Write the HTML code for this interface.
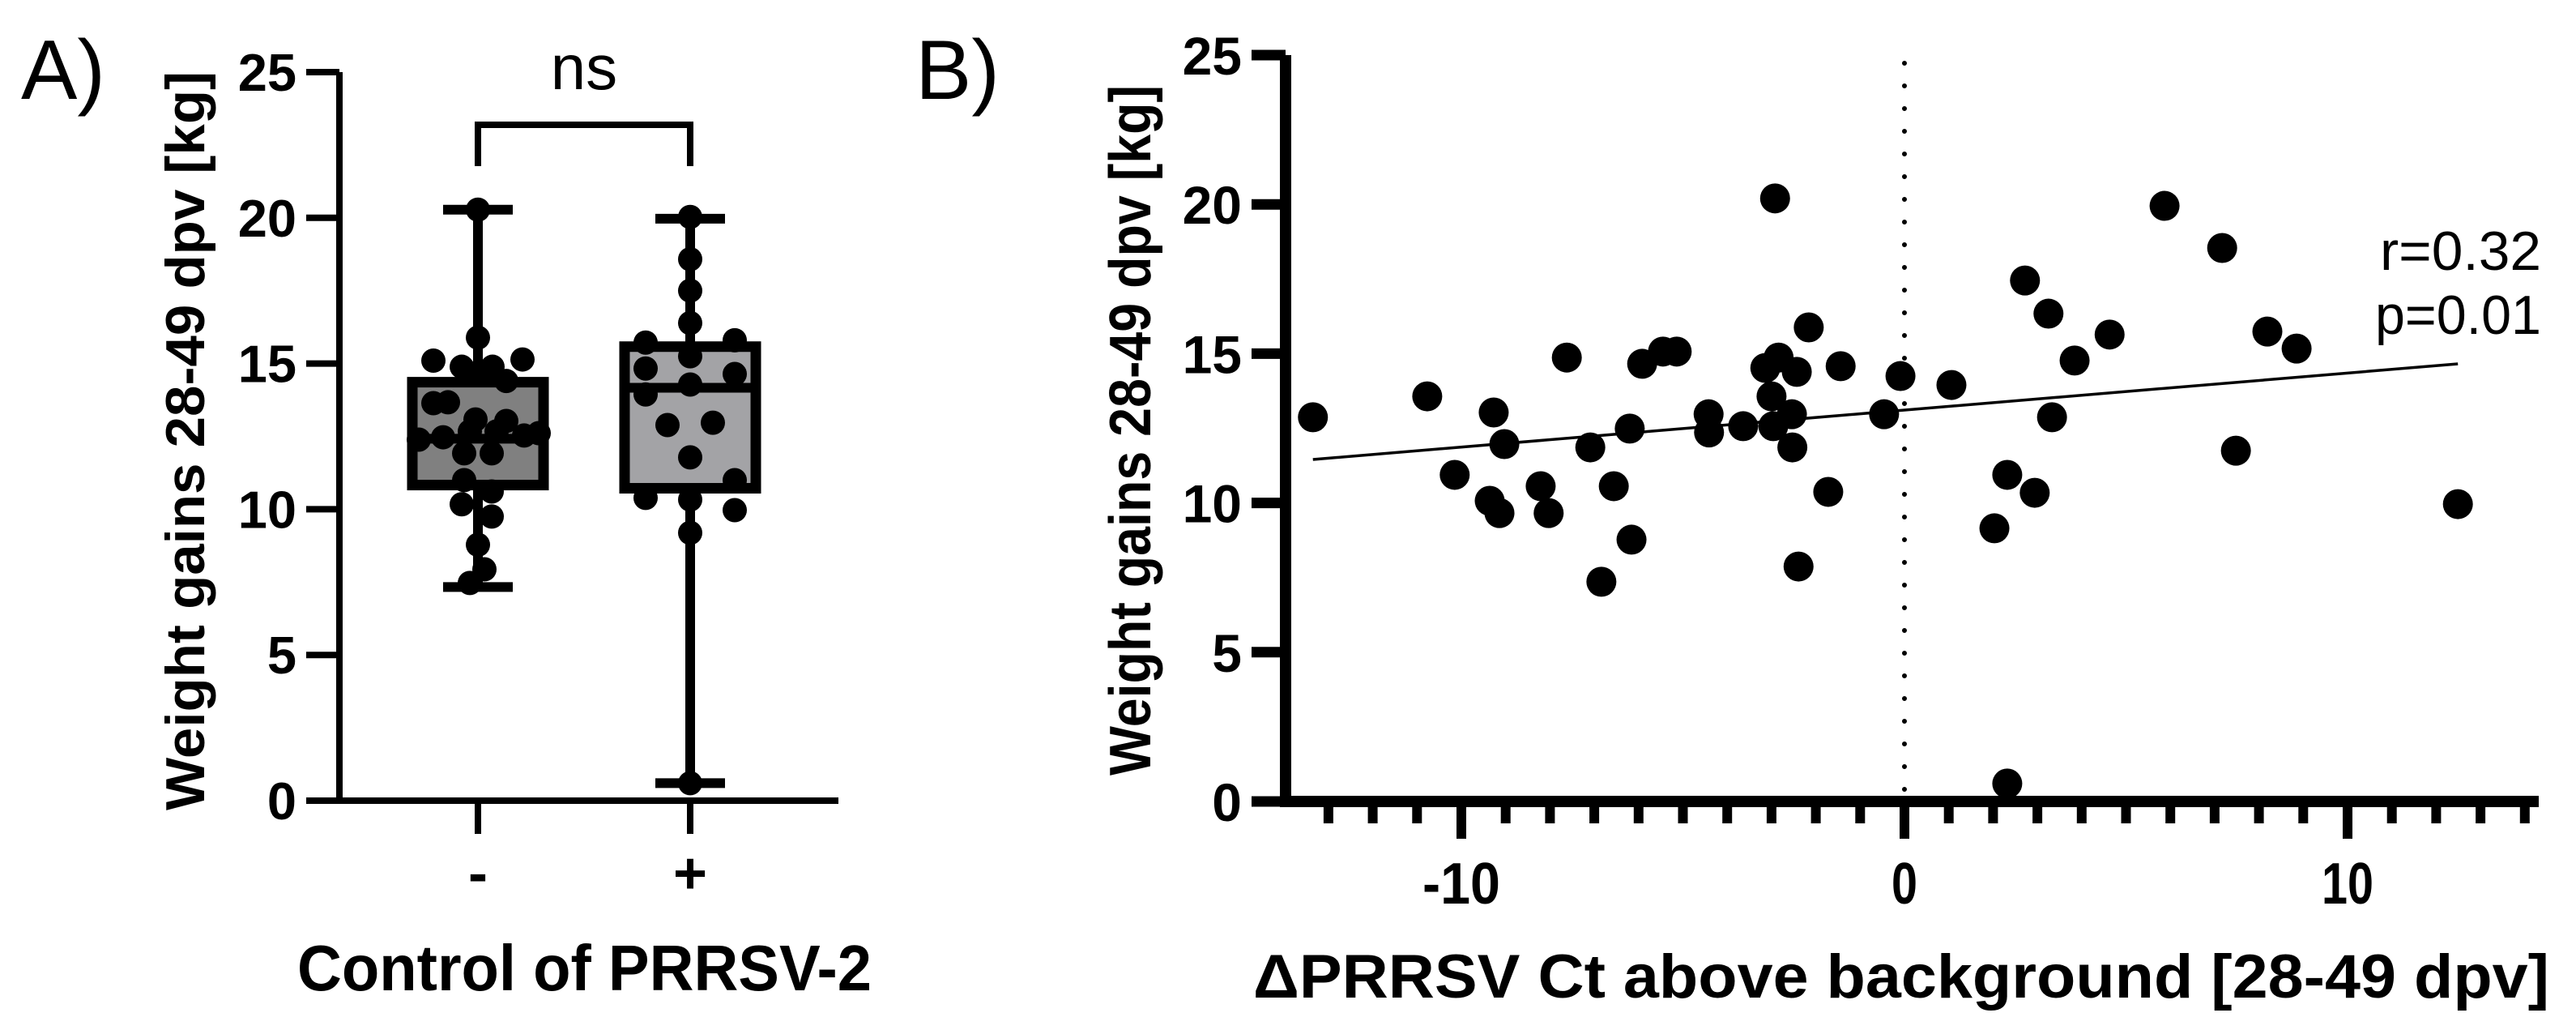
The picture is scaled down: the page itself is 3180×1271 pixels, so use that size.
<!DOCTYPE html>
<html><head><meta charset="utf-8"><style>
html,body{margin:0;padding:0;background:#fff;}
svg{display:block;font-family:"Liberation Sans",Arial,sans-serif;}
</style></head><body>
<svg id="fig" width="3180" height="1271" viewBox="0 0 3180 1271" xmlns="http://www.w3.org/2000/svg">
<rect width="3180" height="1271" fill="#fff"/>
<g id="pa"></g>
<g id="pb"></g>
</svg>
<script>
// ---------- Panel A data ----------
const catsA = ["-", "+"];
const ticksA = [0, 5, 10, 15, 20, 25];
const pointsNeg = [20.28,15.89,15.1,14.89,14.89,15.14,14.7,14.4,13.64,13.67,13.08,13.03,12.39,12.47,12.67,12.67,12.53,12.61,11.92,11.92,11.0,10.61,10.17,9.75,8.78,7.94,7.47];
const pointsPos = [20.03,18.58,17.5,16.39,15.72,15.8,15.25,14.83,14.64,14.28,13.94,12.89,12.97,11.78,11.0,10.39,10.33,9.97,9.19,0.6];
const boxQ1 = [10.83, 10.72];
const boxMedian = [12.42, 14.17];
const boxQ3 = [14.36, 15.58];
const boxMin = [7.33, 0.6];
const boxMax = [20.28, 19.97];
// jitter layout (horizontal spread, px) – not data
const jitterNeg = [0,0,-55,-20,18,55,0,35,-55,-37,-3,35,-73,-43,-10,23,57,75,-17,17,-17,17,-20,17,0,8,-10];
const jitterPos = [0,0,0,0,-55,55,0,-55,55,0,-55,-28,28,0,55,-55,0,55,0,0];

// ---------- Panel B data ----------
const ticksBy = [0, 5, 10, 15, 20, 25];
const ticksBx = [-10, 0, 10];
const scatterX = [-13.35,-10.77,-9.27,-9.03,-10.15,-9.36,-9.14,-8.21,-8.03,-7.62,-7.09,-6.56,-6.16,-6.84,-6.2,-5.92,-5.45,-5.14,-4.42,-4.41,-3.64,-2.92,-3.14,-2.84,-2.43,-3.0,-2.54,-2.96,-2.53,-2.16,-1.72,-2.39,-1.44,-0.46,-0.09,1.06,2.72,3.25,3.84,4.63,3.33,2.32,2.94,2.03,2.32,5.87,7.17,8.19,8.85,7.48,12.49];
const scatterY = [12.87,13.57,13.03,11.97,10.94,10.07,9.66,10.56,9.66,14.87,11.86,10.56,8.77,7.36,12.49,14.66,15.07,15.07,12.97,12.36,12.57,20.2,14.52,14.87,14.39,13.57,12.97,12.57,11.86,15.88,10.37,7.87,14.58,12.97,14.25,13.95,17.45,16.34,14.77,15.64,12.87,10.94,10.34,9.15,0.6,19.95,18.54,15.74,15.17,11.75,9.96];
const fitSlope = [0.124];
const fitIntercept = [13.11];
const statLabels = ["r=0.32", "p=0.01"];

const NS = "http://www.w3.org/2000/svg";
function mk(parent, tag, attrs, text) {
  const e = document.createElementNS(NS, tag);
  for (const k in attrs) e.setAttribute(k, attrs[k]);
  if (text !== undefined) e.textContent = text;
  parent.appendChild(e);
  return e;
}

// ===== Panel A =====
const pa = document.getElementById('pa');
const yA = v => 988 - v * 35.96;
const xA = i => [590, 852][i];
const A_AX = 419;

let t = mk(pa, 'text', {x: 26, y: 122, 'font-size': 104}, 'A)');



let yt = mk(pa, 'text', {x: 0, y: 0, 'font-size': 68, 'font-weight': 'bold', 'text-anchor': 'middle', transform: 'translate(252,544) rotate(-90)', textLength: 912, lengthAdjust: 'spacingAndGlyphs'}, 'Weight gains 28-49 dpv [kg]');



let axA = mk(pa, 'path', {d: `M${A_AX} ${yA(25)} V${yA(0)} H1035`, stroke: '#000', 'stroke-width': 8, fill: 'none'});



ticksA.forEach(v => {
  let l = mk(pa, 'line', {x1: 378, x2: A_AX, y1: yA(v), y2: yA(v), stroke: '#000', 'stroke-width': 8});
  
  
  let tx = mk(pa, 'text', {x: 366, y: yA(v) + 23, 'font-size': 65, 'font-weight': 'bold', 'text-anchor': 'end'}, String(v));
  
  
});

catsA.forEach((c, i) => {
  let l = mk(pa, 'line', {x1: xA(i), x2: xA(i), y1: yA(0), y2: 1029, stroke: '#000', 'stroke-width': 8});
  
  
  let tx = mk(pa, 'text', {x: xA(i), y: 1102, 'font-size': 72, 'font-weight': 'bold', 'text-anchor': 'middle'}, c);
  
  
});

let xtA = mk(pa, 'text', {x: 367, y: 1222, 'font-size': 80, 'font-weight': 'bold', textLength: 709, lengthAdjust: 'spacingAndGlyphs'}, 'Control of PRRSV-2');



// significance bracket
let br = mk(pa, 'path', {d: `M${xA(0)} 205 V154 H${xA(1)} V205`, stroke: '#000', 'stroke-width': 8, fill: 'none'});


let ns = mk(pa, 'text', {x: (xA(0) + xA(1)) / 2, y: 110, 'font-size': 78, 'text-anchor': 'middle'}, 'ns');



const fills = ['#808080', '#a3a3a6'];
const groups = [pointsNeg, pointsPos];
const jit = [jitterNeg, jitterPos];
catsA.forEach((c, i) => {
  const cx = xA(i), hw = 81, cw = 43;
  let w = mk(pa, 'path', {d: `M${cx} ${yA(boxMax[i])} V${yA(boxQ3[i])} M${cx} ${yA(boxQ1[i])} V${yA(boxMin[i])} M${cx - cw} ${yA(boxMax[i])} H${cx + cw} M${cx - cw} ${yA(boxMin[i])} H${cx + cw}`, stroke: '#000', 'stroke-width': 12, fill: 'none'});
  
  
  let b = mk(pa, 'rect', {x: cx - hw, y: yA(boxQ3[i]), width: hw * 2, height: yA(boxQ1[i]) - yA(boxQ3[i]), fill: fills[i], stroke: '#000', 'stroke-width': 13});
  
  
  let m = mk(pa, 'line', {x1: cx - hw, x2: cx + hw, y1: yA(boxMedian[i]), y2: yA(boxMedian[i]), stroke: '#000', 'stroke-width': 12});
  
  
  groups[i].forEach((v, k) => {
    let d = mk(pa, 'circle', {cx: cx + (jit[i][k] || 0), cy: yA(v), r: 15, fill: '#000'});
    
    
  });
});

// ===== Panel B =====
const pb = document.getElementById('pb');
const yB = v => 989 - v * 36.84;
const xB = u => 2351 + u * 54.7;
const B_AX = 1587;

let tb = mk(pb, 'text', {x: 1130, y: 122, 'font-size': 104}, 'B)');



let ytb = mk(pb, 'text', {x: 0, y: 0, 'font-size': 72, 'font-weight': 'bold', 'text-anchor': 'middle', transform: 'translate(1420,531) rotate(-90)', textLength: 852, lengthAdjust: 'spacingAndGlyphs'}, 'Weight gains 28-49 dpv [kg]');



let axB = mk(pb, 'path', {d: `M${B_AX} ${yB(25)} V${yB(0)} H3134`, stroke: '#000', 'stroke-width': 14, fill: 'none'});



ticksBy.forEach(v => {
  let l = mk(pb, 'line', {x1: 1545, x2: B_AX, y1: yB(v), y2: yB(v), stroke: '#000', 'stroke-width': 13});
  
  
  let tx = mk(pb, 'text', {x: 1533, y: yB(v) + 24, 'font-size': 66, 'font-weight': 'bold', 'text-anchor': 'end'}, String(v));
  
  
});

for (let u = -13; u <= 14; u++) {
  const major = ticksBx.includes(u);
  let l = mk(pb, 'line', {x1: xB(u), x2: xB(u), y1: yB(0), y2: major ? 1035 : 1016, stroke: '#000', 'stroke-width': 12});
  
  
}
ticksBx.forEach(u => {
  const s = String(u);
  let tx = mk(pb, 'text', {x: xB(u), y: 1115, 'font-size': 72, 'font-weight': 'bold', 'text-anchor': 'middle', textLength: s.length * 32, lengthAdjust: 'spacingAndGlyphs'}, s);
  
  
});

let xtB = mk(pb, 'text', {x: 1547, y: 1231, 'font-size': 76, 'font-weight': 'bold', textLength: 1600, lengthAdjust: 'spacingAndGlyphs'}, 'ΔPRRSV Ct above background [28-49 dpv]');



let zl = mk(pb, 'line', {x1: xB(0), x2: xB(0), y1: 78, y2: yB(0) - 10, stroke: '#000', 'stroke-width': 6, 'stroke-dasharray': '0 28', 'stroke-linecap': 'round'});



const xmin = Math.min(...scatterX), xmax = Math.max(...scatterX);
let fl = mk(pb, 'line', {x1: xB(xmin), y1: yB(fitIntercept[0] + fitSlope[0] * xmin), x2: xB(xmax), y2: yB(fitIntercept[0] + fitSlope[0] * xmax), stroke: '#000', 'stroke-width': 3.5});



scatterX.forEach((u, k) => {
  let d = mk(pb, 'circle', {cx: xB(u), cy: yB(scatterY[k]), r: 18.5, fill: '#000'});
  
  
});

let r1 = mk(pb, 'text', {x: 3137, y: 333, 'font-size': 68, 'text-anchor': 'end', textLength: 199, lengthAdjust: 'spacingAndGlyphs'}, statLabels[0]);


let p1 = mk(pb, 'text', {x: 3137, y: 412, 'font-size': 68, 'text-anchor': 'end', textLength: 205, lengthAdjust: 'spacingAndGlyphs'}, statLabels[1]);


</script>
</body></html>
